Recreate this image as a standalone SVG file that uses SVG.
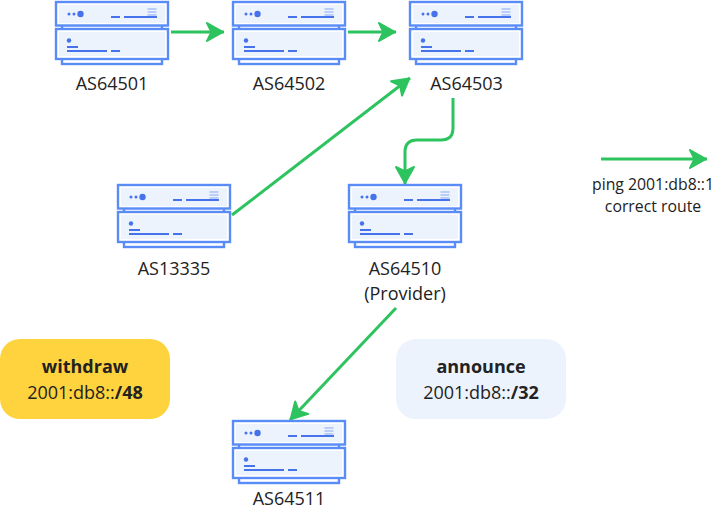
<svg xmlns="http://www.w3.org/2000/svg" width="715" height="511" viewBox="0 0 715 511">
<style>
text{font-family:"Open Sans","Noto Sans",sans-serif;fill:#222;text-anchor:middle}
.l{font-size:18px}.s{font-size:15.800px}.b{font-size:18px}.h{font-weight:700}
.c{fill:none;stroke:#2dc35f;stroke-width:3}
.o{fill:#fff;stroke:#5a8cf8;stroke-width:2.400}
.i{fill:#edf3fd}
.d{fill:#4672ec}
.t{stroke:#4672ec;stroke-width:2;fill:none}
.p{stroke:#a9c1f3;stroke-width:1.300;fill:none}
.m{fill:#2dc35f;stroke:#2dc35f;stroke-width:2;stroke-linejoin:round}
</style>
<defs>
<marker id="a" markerUnits="userSpaceOnUse" markerWidth="24" markerHeight="24" refX="20" refY="12" orient="auto"><path class="m" d="M3 3L19 12L3 21L7.500 12Z"/></marker>
<symbol id="srv" width="114" height="65" overflow="visible">
<rect class="o" x="7" y="24" width="100" height="6"/>
<rect class="o" x="7" y="56" width="100" height="7"/>
<rect class="o" x="1" y="1" width="112" height="23.500"/>
<rect class="i" x="4" y="4" width="106" height="18"/>
<rect class="o" x="1" y="28" width="112" height="30"/>
<rect class="i" x="4" y="31" width="106" height="24"/>
<circle class="d" cx="14" cy="13" r="1.500"/><circle class="d" cx="19" cy="13" r="1.500"/><circle class="d" cx="25.500" cy="13" r="3.200"/>
<path class="t" d="M56 16h9M69 16h33"/>
<path class="p" d="M92.500 8h9M92.500 11h9M92.500 14h9"/>
<circle class="d" cx="14" cy="39.500" r="2.200"/>
<path class="t" d="M12 46h11M12 50h40M56 50h9"/>
</symbol>
</defs>
<g id="connectors">
<path class="c" marker-end="url(#a)" d="M171 32H224"/>
<path class="c" marker-end="url(#a)" d="M348 32H396"/>
<path class="c" marker-end="url(#a)" d="M232 215L410 78"/>
<path class="c" marker-end="url(#a)" d="M453 98V128Q453 140 441 140H417Q405 140 405 152V184"/>
<path class="c" marker-end="url(#a)" d="M396 308L290 420"/>
<path class="c" marker-end="url(#a)" d="M601 159H707"/>
</g>
<g id="as64501"><use href="#srv" x="55" y="1"/><text class="l" x="112" y="90">AS64501</text></g>
<g id="as64502"><use href="#srv" x="232" y="1"/><text class="l" x="289" y="90">AS64502</text></g>
<g id="as64503"><use href="#srv" x="409" y="1"/><text class="l" x="466.500" y="90">AS64503</text></g>
<g id="as13335"><use href="#srv" x="117" y="184"/><text class="l" x="174" y="275">AS13335</text></g>
<g id="as64510"><use href="#srv" x="348" y="184"/><text class="l" x="405" y="275">AS64510</text><text class="l" x="405" y="300">(Provider)</text></g>
<g id="as64511"><use href="#srv" x="232" y="420"/><text class="l" x="289" y="505">AS64511</text></g>
<g id="legend"><text class="s" x="653" y="190">ping 2001:db8::1</text><text class="s" x="653" y="212">correct route</text></g>
<g id="withdraw"><rect x="0" y="339" width="170" height="80" rx="20" fill="#ffd33d"/><text class="b h" x="85" y="373">withdraw</text><text class="b" x="85" y="399">2001:db8::<tspan class="h">/48</tspan></text></g>
<g id="announce"><rect x="396" y="339" width="170" height="80" rx="20" fill="#edf3fd"/><text class="b h" x="481" y="373">announce</text><text class="b" x="481" y="399">2001:db8::<tspan class="h">/32</tspan></text></g>
</svg>
